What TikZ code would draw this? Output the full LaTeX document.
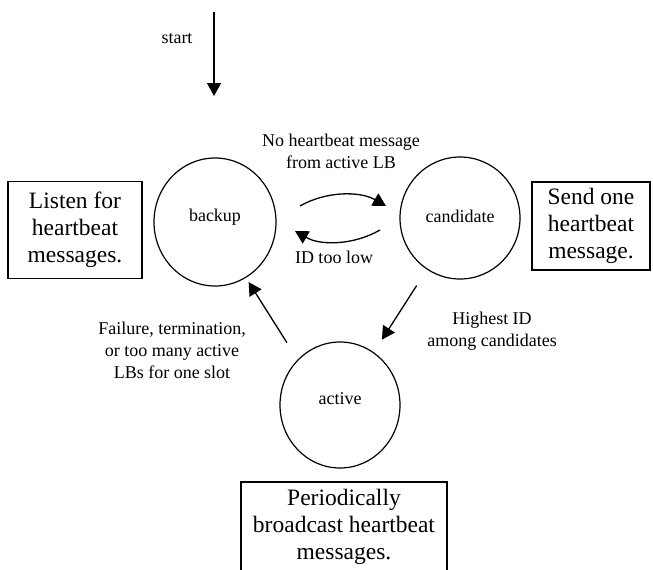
\documentclass[tikz,border=0pt]{standalone}
\usepackage{fontspec}
\setmainfont{Liberation Serif}
\usetikzlibrary{arrows.meta,shapes.geometric,calc}
\begin{document}
\begin{tikzpicture}[x=1pt,y=-1pt,
  state/.style={draw,ellipse,line width=1.2pt,inner sep=0pt},
  lbl/.style={inner sep=0pt,align=center,font=\fontsize{18}{22}\selectfont},
  infobox/.style={draw,rectangle,line width=1.2pt,inner sep=0pt,align=center,font=\fontsize{23.5}{27}\selectfont},
  arr/.style={line width=1.3pt,-{Triangle[length=13pt,width=14pt]}}
]
\useasboundingbox (0,0) rectangle (653,570);
\clip (0,0) rectangle (653,570);

% states
\node[state,minimum width=122pt,minimum height=128pt] (backup) at (215,222) {};
\node[state,minimum width=120pt,minimum height=122pt] (candidate) at (460,218) {};
\node[state,minimum width=120pt,minimum height=126pt] (active) at (340,405) {};
\node[lbl] (tbackup) at ([yshift=5pt]backup.center) {backup};
\node[lbl] (tcandidate) at ([yshift=2pt]candidate.center) {candidate};
\node[lbl] (tactive) at ([yshift=6pt]active.center) {active};

% boxes
\node[infobox,minimum width=134pt,minimum height=97pt] (listen) at (75,230) {Listen for\\heartbeat\\messages.};
\node[infobox,minimum width=118pt,minimum height=88pt] (send) at (591,226) {Send one\\heartbeat\\message.};
\draw[line width=1.2pt] (241,600) -- (241,482) -- (447,482) -- (447,600);
\node[lbl,font=\fontsize{23.5}{27}\selectfont] (periodic) at (344,527) {Periodically\\broadcast heartbeat\\messages.};

% start arrow
\coordinate (s0) at (214,12);
\coordinate (s1) at (214,96);
\draw[arr] (s0) -- (s1);
\node[lbl] (start) at (177,39) {start};

% backup -> candidate (upper arc)
\coordinate (u0) at ([shift={(85pt,16pt)}]backup.center);
\coordinate (u1) at ([shift={(-74pt,12pt)}]candidate.center);
\draw[arr] (u0) .. controls +(26,-15) and +(-26,-15) .. (u1);
\node[lbl] (nohb) at (341,151) {No heartbeat message\\from active LB};

% candidate -> backup (lower arc)
\coordinate (l0) at ([shift={(-80pt,-12pt)}]candidate.center);
\coordinate (l1) at ([shift={(80pt,-9pt)}]backup.center);
\draw[arr] (l0) .. controls +(-26,15) and +(26,15) .. (l1);
\node[lbl] (idlow) at (334,257) {ID too low};

% candidate -> active
\draw[arr,shorten <=19pt,shorten >=15pt] (candidate) -- (active);
\node[lbl] (highest) at (492,331) {Highest ID\\among candidates};

% active -> backup
\draw[arr,shorten <=20pt,shorten >=5pt] (active.133) -- (backup.-61.5);
\node[lbl] (failure) at (172,350) {Failure, termination,\\or too many active\\LBs for one slot};
\end{tikzpicture}
\end{document}
